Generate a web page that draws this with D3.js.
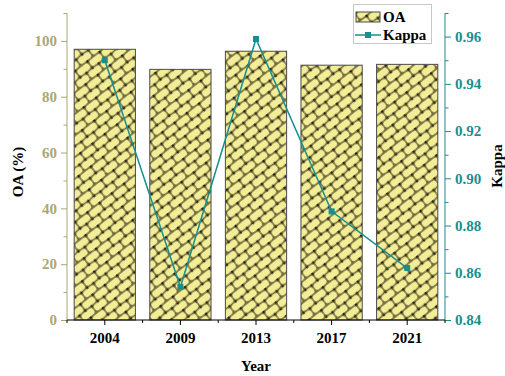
<!DOCTYPE html>
<html>
<head>
<meta charset="utf-8">
<script src="https://cdn.jsdelivr.net/npm/d3@7/dist/d3.min.js"></script>
<style>
  html, body { margin: 0; padding: 0; background: #fff; }
  svg { display: block; }
  text { font-family: "Liberation Serif", "Times New Roman", serif; font-weight: bold; }
</style>
</head>
<body>
<svg id="chart" width="505" height="376"></svg>
<script>
// Accuracy per year
const years = ["2004", "2009", "2013", "2017", "2021"];
const oaValues = [97.0, 89.8, 96.3, 91.3, 91.6];
const kappaValues = [0.950, 0.854, 0.959, 0.886, 0.862];
const oaTicks = [0, 20, 40, 60, 80, 100];
const kappaTicks = [0.84, 0.86, 0.88, 0.90, 0.92, 0.94, 0.96];

const svg = d3.select("#chart");
const plotLeft = 67, plotRight = 445, plotTop = 13, plotBottom = 320;
const olive = "#aca676";
const teal = "#178f8f";
const fontSize = 15;

// Scales
const x = d3.scaleBand().domain(years).range([plotLeft, plotRight]).padding(0);
const yOA = d3.scaleLinear().domain([0, 110]).range([plotBottom, plotTop]);
const yK = d3.scaleLinear().domain([0.84, 0.97]).range([plotBottom, plotTop]);

// Woven brick fill for the bars
const defs = svg.append("defs");
const blur = defs.append("filter").attr("id", "soft")
  .attr("x", "-20%").attr("y", "-20%").attr("width", "140%").attr("height", "140%");
blur.append("feGaussianBlur").attr("stdDeviation", 0.75);
const pw = 15.5, ph = 17;
const pat = defs.append("pattern").attr("id", "weave")
  .attr("patternUnits", "userSpaceOnUse")
  .attr("width", pw).attr("height", ph)
  .attr("patternTransform", "rotate(-38)");
pat.append("rect").attr("width", pw).attr("height", ph).attr("fill", "#6f6a3a");
const bricks = pat.append("g").attr("filter", "url(#soft)");
[[0.7, 0.7], [-7.05, 9.2], [8.45, 9.2]].forEach(([bx, by]) => {
  bricks.append("rect").attr("x", bx).attr("y", by)
    .attr("width", 14.1).attr("height", 7.1).attr("rx", 3)
    .attr("fill", "#f4ed98");
});
// dark knots where the brick corners meet
const knots = pat.append("g").attr("filter", "url(#soft)").attr("fill", "#1e1c0e");
[[0.2, 0.2], [pw, 0.2], [0.2, ph], [pw, ph], [7.75, 8.6], [0.2, 8.6], [pw, 8.6]].forEach(([kx, ky]) => {
  knots.append("circle").attr("cx", kx).attr("cy", ky).attr("r", 1.1);
});

// Bars
const barW = x.bandwidth() * 0.81;
svg.append("g").selectAll("rect").data(years).join("rect")
  .attr("x", d => x(d) + (x.bandwidth() - barW) / 2)
  .attr("y", (d, i) => yOA(oaValues[i]))
  .attr("width", barW)
  .attr("height", (d, i) => plotBottom - yOA(oaValues[i]))
  .attr("fill", "url(#weave)")
  .attr("stroke", "#4a4a4a").attr("stroke-width", 1);

// Left axis
const gL = svg.append("g").attr("transform", `translate(${plotLeft},0)`)
  .call(d3.axisLeft(yOA).tickValues(oaTicks).tickSize(6).tickPadding(4));
svg.append("g").attr("transform", `translate(${plotLeft},0)`)
  .call(d3.axisLeft(yOA).tickValues([10, 30, 50, 70, 90, 110]).tickSize(3.5).tickFormat(""))
  .call(g => g.select(".domain").remove())
  .selectAll("line").attr("stroke", olive);
gL.select(".domain").attr("stroke", olive).attr("d", `M0,${plotTop}V${plotBottom}`);
gL.selectAll(".tick line").attr("stroke", olive);
gL.selectAll(".tick text").attr("fill", olive).attr("font-size", fontSize)
  .style("font-family", "'Liberation Serif', serif").style("font-weight", "bold");

// Right axis
const gR = svg.append("g").attr("transform", `translate(${plotRight},0)`)
  .call(d3.axisRight(yK).tickValues(kappaTicks).tickSize(6).tickPadding(4).tickFormat(d3.format(".2f")));
svg.append("g").attr("transform", `translate(${plotRight},0)`)
  .call(d3.axisRight(yK).tickValues([0.85, 0.87, 0.89, 0.91, 0.93, 0.95, 0.97]).tickSize(3.5).tickFormat(""))
  .call(g => g.select(".domain").remove())
  .selectAll("line").attr("stroke", teal);
gR.select(".domain").attr("stroke", teal).attr("d", `M0,${plotTop}V${plotBottom}`);
gR.selectAll(".tick line").attr("stroke", teal);
gR.selectAll(".tick text").attr("fill", teal).attr("font-size", fontSize)
  .style("font-family", "'Liberation Serif', serif").style("font-weight", "bold");

// Bottom axis
const gB = svg.append("g").attr("transform", `translate(0,${plotBottom})`)
  .call(d3.axisBottom(x).tickSize(5).tickPadding(7));
gB.select(".domain").attr("stroke", "#000").attr("d", `M${plotLeft},0H${plotRight}`);
gB.selectAll(".tick text").attr("fill", "#000").attr("font-size", fontSize)
  .style("font-family", "'Liberation Serif', serif").style("font-weight", "bold");
gB.selectAll(".minor").data(d3.range(years.length + 1)).join("line")
  .attr("class", "minor")
  .attr("x1", i => plotLeft + i * x.step()).attr("x2", i => plotLeft + i * x.step())
  .attr("y1", 0).attr("y2", 3).attr("stroke", "#000");

// Kappa line with square markers
const cx = d => x(d) + x.bandwidth() / 2;
svg.append("path")
  .datum(years)
  .attr("fill", "none").attr("stroke", teal).attr("stroke-width", 1.5)
  .attr("d", d3.line().x(d => cx(d)).y((d, i) => yK(kappaValues[i])));
svg.append("g").selectAll("rect").data(years).join("rect")
  .attr("x", d => cx(d) - 3).attr("y", (d, i) => yK(kappaValues[i]) - 3)
  .attr("width", 6).attr("height", 6).attr("fill", teal);

// Axis titles
svg.append("text").attr("transform", "translate(23,172) rotate(-90)")
  .attr("text-anchor", "middle").attr("font-size", fontSize).text("OA (%)");
svg.append("text").attr("transform", "translate(502,166) rotate(-90)")
  .attr("text-anchor", "middle").attr("font-size", fontSize).text("Kappa");
svg.append("text").attr("x", 256).attr("y", 371)
  .attr("text-anchor", "middle").attr("font-size", fontSize).text("Year");

// Legend
const lg = svg.append("g");
lg.append("rect").attr("x", 353.5).attr("y", 4.5).attr("width", 78).attr("height", 39)
  .attr("fill", "#fff").attr("stroke", "#c8c8c8");
lg.append("rect").attr("x", 356).attr("y", 12).attr("width", 24).attr("height", 10)
  .attr("fill", "url(#weave)").attr("stroke", "#4a4a4a");
lg.append("text").attr("x", 383).attr("y", 22).attr("font-size", fontSize).text("OA");
lg.append("line").attr("x1", 355).attr("x2", 381).attr("y1", 35).attr("y2", 35)
  .attr("stroke", teal).attr("stroke-width", 1.5);
lg.append("rect").attr("x", 365).attr("y", 32).attr("width", 6).attr("height", 6).attr("fill", teal);
lg.append("text").attr("x", 383).attr("y", 40).attr("font-size", fontSize).text("Kappa");
</script>
</body>
</html>
